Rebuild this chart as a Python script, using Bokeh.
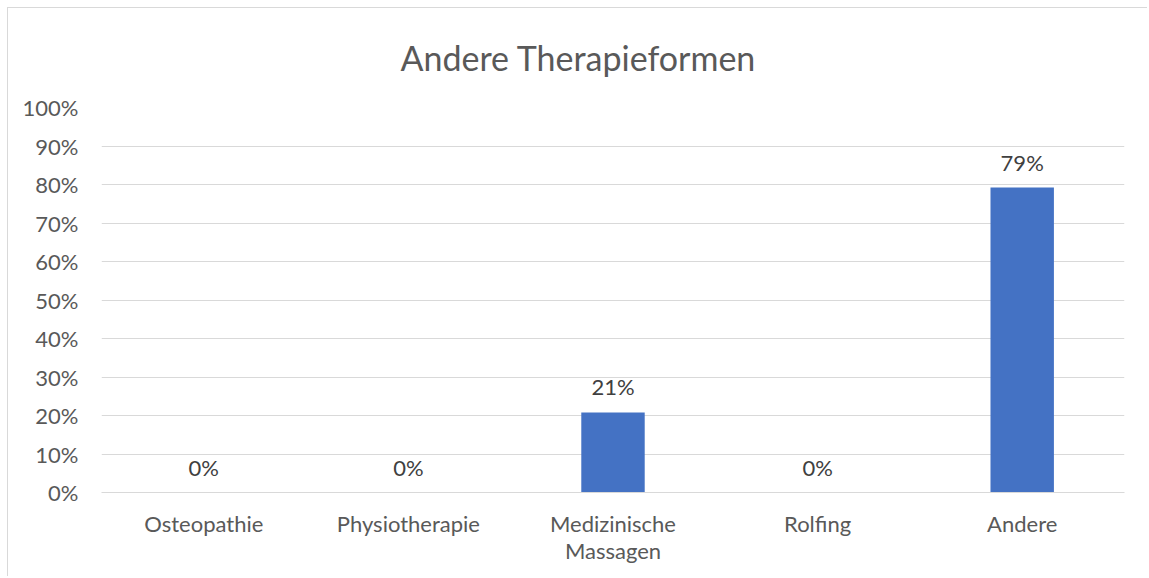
from bokeh.plotting import figure
from bokeh.models import ColumnDataSource, LabelSet, Title, FixedTicker, NumeralTickFormatter, FactorRange, Range1d
from bokeh.core.properties import value
from bokeh.embed import file_html
from bokeh.resources import INLINE

categories = ["Osteopathie", "Physiotherapie", "Medizinische\nMassagen", "Rolfing", "Andere"]
values = [0.0, 0.0, 0.208, 0.0, 0.792]
labels = [f"{round(v * 100)}%" for v in values]
y_ticks = [0.0, 0.1, 0.2, 0.3, 0.4, 0.5, 0.6, 0.7, 0.8, 0.9, 1.0]
title_text = "Andere Therapieformen"

FONT = "Lato"
GRAY = "#595959"

source = ColumnDataSource(data=dict(cat=categories, val=values, lab=labels))

p = figure(
    width=1140, height=569,
    x_range=FactorRange(*categories, range_padding=0),
    y_range=Range1d(0, 1),
    output_backend="svg", toolbar_location=None,
    min_border_left=93, min_border_right=24, min_border_top=99, min_border_bottom=85,
)
p.styles = {"margin-left": "7px", "margin-top": "7px",
            "border-top": "1px solid #d9d9d9", "border-left": "1px solid #d9d9d9"}
p.outline_line_color = None
p.background_fill_color = "white"
p.border_fill_color = "white"

p.vbar(x="cat", top="val", width=0.31, source=source, fill_color="#4472C4", line_color=None)

p.xgrid.grid_line_color = None
p.ygrid.grid_line_color = "#d9d9d9"
p.ygrid.grid_line_width = 1
p.yaxis.ticker = FixedTicker(ticks=y_ticks)
p.yaxis.formatter = NumeralTickFormatter(format="0%")

for ax in (p.xaxis[0], p.yaxis[0]):
    ax.major_tick_line_color = None
    ax.minor_tick_line_color = None
    ax.major_tick_in = 0
    ax.major_tick_out = 0
    ax.major_label_text_font = FONT
    ax.major_label_text_font_size = "22px"
    ax.major_label_text_color = GRAY
p.yaxis.axis_line_color = None
p.xaxis.axis_line_color = "#d9d9d9"
p.yaxis.major_label_standoff = 23
p.xaxis.major_label_standoff = 17
p.xaxis.major_label_text_line_height = 1.0

ls = LabelSet(x="cat", y="val", text="lab", source=source, text_align="center",
              text_baseline="alphabetic", y_offset=17, text_font=value(FONT),
              text_font_size="22px", text_color="#404040")
p.add_layout(ls)

title = Title(text=title_text, align="left", offset=299, standoff=56, vertical_align="top",
              text_font=FONT, text_font_size="34px", text_color=GRAY,
              text_font_style="normal")
p.add_layout(title, "above")

open("out.html", "w").write(file_html(p, INLINE))
